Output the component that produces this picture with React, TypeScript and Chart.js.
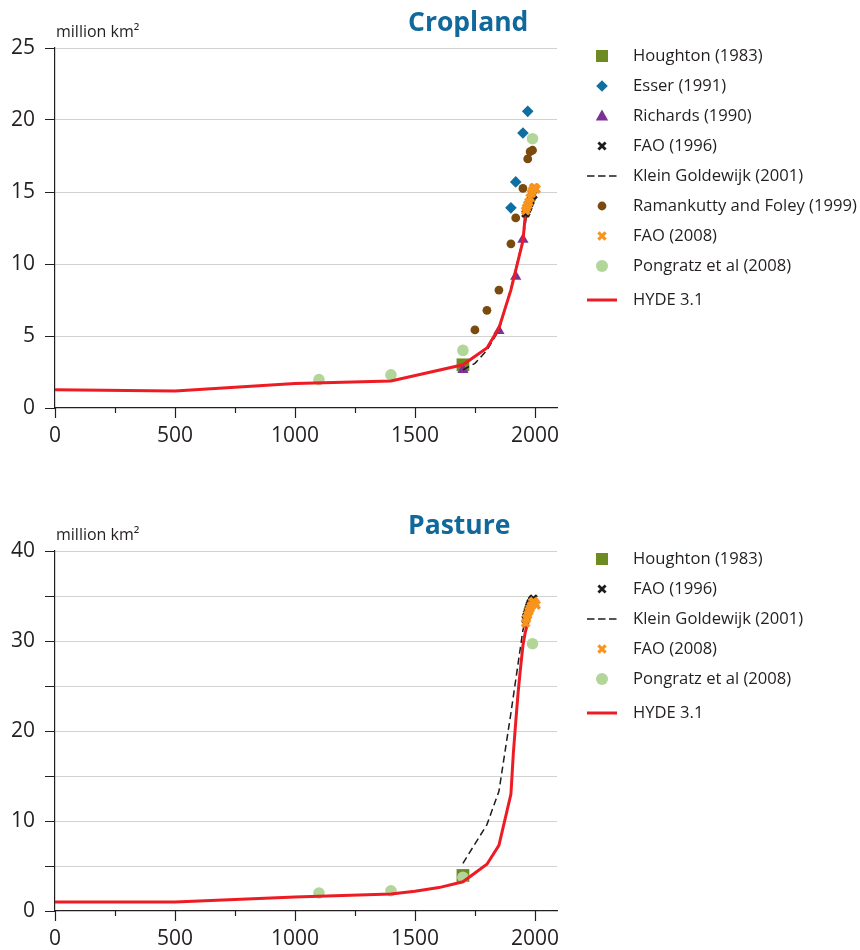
import React, { useEffect, useRef } from "react";
import { Chart, registerables } from "chart.js";

Chart.register(...registerables);

const FONT = "'Open Sans', 'DejaVu Sans', sans-serif";
const TEXT = "#231f20";

// ---- shared axis ticks ----
const xTickLabels = [0, 500, 1000, 1500, 2000];
const xTickMarks = [0, 250, 500, 750, 1000, 1250, 1500, 1750, 2000];
const unitLabel = "million km²";

// ---- Cropland ----
const cropHoughtonYears = [1700];
const cropHoughtonValues = [3.0];
const cropEsserYears = [1900, 1920, 1950, 1970];
const cropEsserValues = [13.9, 15.7, 19.1, 20.6];
const cropRichardsYears = [1700, 1850, 1920, 1950];
const cropRichardsValues = [2.65, 5.37, 9.13, 11.7];
const cropFao1996Years = [1961, 1964, 1967, 1970, 1973, 1976, 1979, 1982, 1985, 1988, 1991, 1994];
const cropFao1996Values = [13.5, 13.6, 13.8, 13.9, 14.0, 14.2, 14.3, 14.4, 14.6, 14.7, 14.8, 14.8];
const cropKleinYears = [1700, 1750, 1800, 1850, 1900, 1950, 1970, 1990];
const cropKleinValues = [2.65, 3.1, 4.0, 5.4, 8.3, 11.7, 13.9, 14.7];
const cropRamankuttyYears = [1750, 1800, 1850, 1900, 1920, 1950, 1970, 1980, 1990];
const cropRamankuttyValues = [5.42, 6.78, 8.19, 11.4, 13.2, 15.25, 17.3, 17.8, 17.9];
const cropFao2008Years = [1961, 1965, 1970, 1975, 1980, 1985, 1990, 1995, 2000, 2005];
const cropFao2008Values = [13.7, 13.9, 14.1, 14.3, 14.6, 14.9, 15.1, 15.3, 15.3, 15.2];
const cropPongratzYears = [1100, 1400, 1700, 1990];
const cropPongratzValues = [1.97, 2.3, 4.0, 18.7];
const cropHydeYears = [0, 500, 1000, 1400, 1700, 1800, 1850, 1900, 1950, 1960, 1970, 1980, 1990, 2000];
const cropHydeValues = [1.27, 1.18, 1.7, 1.87, 3.0, 4.17, 5.55, 8.2, 11.6, 13.4, 14.1, 14.7, 15.1, 15.3];

// ---- Pasture ----
const pastHoughtonYears = [1700];
const pastHoughtonValues = [3.95];
const pastFao1996Years = [1961, 1964, 1967, 1970, 1973, 1976, 1979, 1982, 1985, 1988, 1991, 1994];
const pastFao1996Values = [32.4, 32.7, 33.0, 33.3, 33.5, 33.8, 34.0, 34.2, 34.3, 34.5, 34.6, 34.7];
const pastKleinYears = [1700, 1800, 1850, 1900, 1950, 1970, 1990];
const pastKleinValues = [5.3, 9.6, 13.3, 22.0, 31.2, 33.2, 34.5];
const pastFao2008Years = [1961, 1965, 1970, 1975, 1980, 1985, 1990, 1995, 2000, 2005];
const pastFao2008Values = [32.0, 32.5, 32.9, 33.3, 33.6, 33.9, 34.3, 34.4, 34.2, 34.0];
const pastPongratzYears = [1100, 1400, 1700, 1990];
const pastPongratzValues = [2.0, 2.25, 3.75, 29.7];
const pastHydeYears = [0, 500, 1000, 1400, 1500, 1600, 1700, 1800, 1850, 1900, 1910, 1920, 1930, 1940, 1950, 1960, 1970, 1980, 1990, 2000];
const pastHydeValues = [1.0, 1.0, 1.55, 1.9, 2.2, 2.6, 3.25, 5.2, 7.3, 13.0, 17.5, 21.0, 24.3, 27.0, 29.5, 31.0, 32.0, 33.0, 33.8, 34.2];

type Kind = "houghton" | "esser" | "richards" | "fao96" | "klein" | "raman" | "fao08" | "pongratz" | "hyde";

const STYLE: Record<Kind, any> = {
  houghton: { line: false, pointStyle: "rect", radius: 9, color: "#6e8b22", bw: 0, order: 6 },
  esser: { line: false, pointStyle: "rectRot", radius: 5.8, color: "#0f6fa0", bw: 0, order: 7 },
  richards: { line: false, pointStyle: "triangle", radius: 6.5, color: "#7b3294", bw: 0, order: 5 },
  fao96: { line: false, pointStyle: "crossRot", radius: 4.8, color: "#1c1c1c", bw: 2.8, order: 1 },
  klein: { line: true, color: "#1c1c1c", width: 1.5, dash: [7, 4], order: 3 },
  raman: { line: false, pointStyle: "circle", radius: 4.4, color: "#7a4b0c", bw: 0, order: 8 },
  fao08: { line: false, pointStyle: "crossRot", radius: 5.2, color: "#f7941d", bw: 3.4, order: 0 },
  pongratz: { line: false, pointStyle: "circle", radius: 5.8, color: "#b2d69a", bw: 0, order: 4 },
  hyde: { line: true, color: "#ed1c24", width: 3, order: 2 },
};

type Series = { kind: Kind; label: string; years: number[]; values: number[] };

const cropSeries: Series[] = [
  { kind: "houghton", label: "Houghton (1983)", years: cropHoughtonYears, values: cropHoughtonValues },
  { kind: "esser", label: "Esser (1991)", years: cropEsserYears, values: cropEsserValues },
  { kind: "richards", label: "Richards (1990)", years: cropRichardsYears, values: cropRichardsValues },
  { kind: "fao96", label: "FAO (1996)", years: cropFao1996Years, values: cropFao1996Values },
  { kind: "klein", label: "Klein Goldewijk (2001)", years: cropKleinYears, values: cropKleinValues },
  { kind: "raman", label: "Ramankutty and Foley (1999)", years: cropRamankuttyYears, values: cropRamankuttyValues },
  { kind: "fao08", label: "FAO (2008)", years: cropFao2008Years, values: cropFao2008Values },
  { kind: "pongratz", label: "Pongratz et al (2008)", years: cropPongratzYears, values: cropPongratzValues },
  { kind: "hyde", label: "HYDE 3.1", years: cropHydeYears, values: cropHydeValues },
];

const pastSeries: Series[] = [
  { kind: "houghton", label: "Houghton (1983)", years: pastHoughtonYears, values: pastHoughtonValues },
  { kind: "fao96", label: "FAO (1996)", years: pastFao1996Years, values: pastFao1996Values },
  { kind: "klein", label: "Klein Goldewijk (2001)", years: pastKleinYears, values: pastKleinValues },
  { kind: "fao08", label: "FAO (2008)", years: pastFao2008Years, values: pastFao2008Values },
  { kind: "pongratz", label: "Pongratz et al (2008)", years: pastPongratzYears, values: pastPongratzValues },
  { kind: "hyde", label: "HYDE 3.1", years: pastHydeYears, values: pastHydeValues },
];

function drawLegendMarker(ctx: CanvasRenderingContext2D, kind: Kind, cx: number, cy: number) {
  const s = STYLE[kind];
  ctx.save();
  ctx.fillStyle = s.color;
  ctx.strokeStyle = s.color;
  ctx.setLineDash([]);
  switch (kind) {
    case "houghton":
      ctx.fillRect(cx - 6, cy - 6, 12, 12);
      break;
    case "esser":
      ctx.beginPath();
      ctx.moveTo(cx, cy - 5.8);
      ctx.lineTo(cx + 5.8, cy);
      ctx.lineTo(cx, cy + 5.8);
      ctx.lineTo(cx - 5.8, cy);
      ctx.closePath();
      ctx.fill();
      break;
    case "richards":
      ctx.beginPath();
      ctx.moveTo(cx, cy - 6.5);
      ctx.lineTo(cx + 6.2, cy + 4.5);
      ctx.lineTo(cx - 6.2, cy + 4.5);
      ctx.closePath();
      ctx.fill();
      break;
    case "fao96":
    case "fao08":
      ctx.lineWidth = kind === "fao96" ? 2.8 : 3.2;
      ctx.beginPath();
      ctx.moveTo(cx - 3.6, cy - 3.6);
      ctx.lineTo(cx + 3.6, cy + 3.6);
      ctx.moveTo(cx + 3.6, cy - 3.6);
      ctx.lineTo(cx - 3.6, cy + 3.6);
      ctx.stroke();
      break;
    case "klein":
      ctx.lineWidth = 1.5;
      ctx.setLineDash([7.5, 3.5]);
      ctx.beginPath();
      ctx.moveTo(587, cy);
      ctx.lineTo(618, cy);
      ctx.stroke();
      break;
    case "raman":
      ctx.beginPath();
      ctx.arc(cx, cy, 4.4, 0, Math.PI * 2);
      ctx.fill();
      break;
    case "pongratz":
      ctx.beginPath();
      ctx.arc(cx, cy, 6, 0, Math.PI * 2);
      ctx.fill();
      break;
    case "hyde":
      ctx.lineWidth = 3;
      ctx.beginPath();
      ctx.moveTo(587, cy);
      ctx.lineTo(617, cy);
      ctx.stroke();
      break;
  }
  ctx.restore();
}

function makeConfig(title: string, series: Series[], yMax: number, labelStep: number, areaTop: number, canvasH: number, areaBottom: number) {
  const datasets = series.map((s) => {
    const st = STYLE[s.kind];
    const data = s.years.map((x, i) => ({ x, y: s.values[i] }));
    if (st.line) {
      return {
        label: s.label,
        data,
        showLine: true,
        borderColor: st.color,
        borderWidth: st.width,
        borderDash: st.dash || [],
        pointRadius: 0,
        fill: false,
        tension: 0,
        order: st.order,
      };
    }
    return {
      label: s.label,
      data,
      showLine: false,
      pointStyle: st.pointStyle,
      pointRadius: st.radius,
      pointBackgroundColor: st.color,
      pointBorderColor: st.color,
      pointBorderWidth: st.bw,
      order: st.order,
    };
  });

  const overlay = {
    id: "overlay",
    afterDraw(chart: any) {
      const { ctx, chartArea, scales } = chart;
      const xs = scales.x;
      ctx.save();
      // x tick marks (major / minor)
      ctx.strokeStyle = TEXT;
      ctx.lineWidth = 1.2;
      for (const v of xTickMarks) {
        const px = Math.round(xs.getPixelForValue(v)) + 0.5;
        const len = v % 500 === 0 ? 10 : 5;
        ctx.beginPath();
        ctx.moveTo(px, chartArea.bottom);
        ctx.lineTo(px, chartArea.bottom + len);
        ctx.stroke();
      }
      // title
      ctx.fillStyle = "#11699b";
      ctx.font = `bold 26.5px ${FONT}`;
      ctx.textAlign = "left";
      ctx.textBaseline = "alphabetic";
      ctx.fillText(title, 408, chartArea.top - 17);
      // unit label
      ctx.fillStyle = TEXT;
      ctx.font = `16px ${FONT}`;
      ctx.textBaseline = "middle";
      ctx.fillText(unitLabel, 56, chartArea.top - 16);
      // legend
      ctx.font = `16.6px ${FONT}`;
      let y = chartArea.top + 8;
      series.forEach((s) => {
        if (s.kind === "hyde") y += 4;
        drawLegendMarker(ctx, s.kind, 602, y);
        ctx.fillStyle = TEXT;
        ctx.textBaseline = "middle";
        ctx.fillText(s.label, 633, y);
        y += 30;
      });
      ctx.restore();
    },
  };

  return {
    type: "scatter",
    data: { datasets },
    options: {
      animation: false,
      responsive: false,
      devicePixelRatio: 1,
      events: [],
      layout: { padding: { top: areaTop, right: 303, bottom: 0, left: 0 } },
      plugins: { legend: { display: false }, tooltip: { enabled: false }, title: { display: false } },
      scales: {
        x: {
          type: "linear",
          min: 0,
          max: 2092,
          afterFit: (scale: any) => {
            scale.height = canvasH - areaBottom;
          },
          afterBuildTicks: (scale: any) => {
            scale.ticks = xTickLabels.map((v) => ({ value: v }));
          },
          grid: { display: false, drawTicks: false },
          border: { display: true, color: TEXT, width: 1.2 },
          ticks: {
            autoSkip: false,
            maxRotation: 0,
            padding: 15,
            color: TEXT,
            font: { family: FONT, size: 21 },
            callback: (v: any) => String(v),
          },
        },
        y: {
          type: "linear",
          min: 0,
          max: yMax,
          afterFit: (scale: any) => {
            scale.width = 55;
          },
          grid: {
            color: (c: any) => (c.tick && c.tick.value === 0 ? "rgba(0,0,0,0)" : "#d2d2d2"),
            lineWidth: 1,
            tickColor: TEXT,
            tickLength: 10,
            drawTicks: true,
          },
          border: { display: true, color: TEXT, width: 1.2 },
          ticks: {
            stepSize: 5,
            padding: 10,
            color: TEXT,
            font: { family: FONT, size: 21 },
            callback: (v: any) => (v % labelStep === 0 ? String(v) : ""),
          },
        },
      },
    },
    plugins: [overlay],
  } as any;
}

function Panel({ top, build }: { top: number; build: () => any }) {
  const ref = useRef<HTMLCanvasElement>(null);
  useEffect(() => {
    const chart = new Chart(ref.current as HTMLCanvasElement, build());
    return () => chart.destroy();
  }, []);
  return (
    <canvas
      ref={ref}
      width={860}
      height={475}
      style={{ position: "absolute", left: 0, top, width: 860, height: 475, display: "block" }}
    />
  );
}

export default function App() {
  return (
    <div style={{ position: "absolute", left: 0, top: 0, width: 860, height: 950, background: "#fff" }}>
      <Panel top={0} build={() => makeConfig("Cropland", cropSeries, 25, 5, 48, 475, 408)} />
      <Panel top={475} build={() => makeConfig("Pasture", pastSeries, 40, 10, 76, 475, 436)} />
    </div>
  );
}
